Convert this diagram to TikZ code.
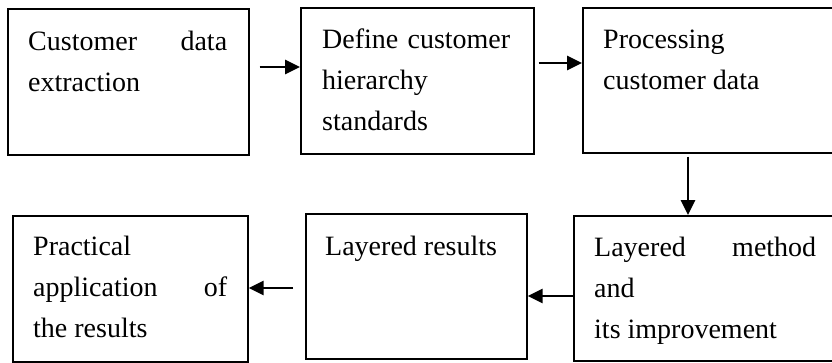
\documentclass[tikz,border=0pt]{standalone}
\usepackage{fontspec}
\setmainfont{Liberation Serif}
\usetikzlibrary{arrows.meta,calc}
\tikzset{
  box/.style={draw=black, line width=1.6pt, rectangle, inner sep=0pt},
  txt/.style={inner sep=0pt, anchor=base west, font=\fontsize{28}{41}\selectfont},
  arr/.style={line width=2.8pt, -{Triangle[length=15pt,width=14pt]}}
}
\begin{document}
\begin{tikzpicture}[x=1pt,y=1pt]
\useasboundingbox (0,0) rectangle (832,-362);
\clip (0,0) rectangle (832,-362);
% boxes
\node[box, minimum width=241pt, minimum height=146pt, anchor=north west] (b1) at (7,-8) {};
\node[box, minimum width=233pt, minimum height=146pt, anchor=north west] (b2) at (300,-7) {};
\node[box, minimum width=300pt, minimum height=145pt, anchor=north west] (b3) at (582,-7) {};
\node[box, minimum width=300pt, minimum height=145pt, anchor=north west] (b4) at (573,-215) {};
\node[box, minimum width=221pt, minimum height=145pt, anchor=north west] (b5) at (305,-213) {};
\node[box, minimum width=235pt, minimum height=146pt, anchor=north west] (b6) at (12,-215) {};
% texts
\node[txt] (t1) at ($(b1.north west)+(21,-42)$) {\parbox[t]{199pt}{Customer\hfill data\\extraction}};
\node[txt] (t2) at ($(b2.north west)+(22,-41)$) {\parbox[t]{188pt}{Define\hfill customer\\hierarchy\\standards}};
\node[txt] (t3) at ($(b3.north west)+(21,-41)$) {\parbox[t]{220pt}{Processing\\customer data}};
\node[txt] (t4) at ($(b4.north west)+(21,-41)$) {\parbox[t]{222pt}{Layered\hfill method\\and\\its improvement}};
\node[txt] (t5) at ($(b5.north west)+(20,-42)$) {\parbox[t]{190pt}{Layered results}};
\node[txt] (t6) at ($(b6.north west)+(21,-40)$) {\parbox[t]{194pt}{Practical\\application\hfill of\\the results}};
% arrows
\draw[arr, shorten <=10pt] (b1.east |- 0,-67) -- (b2.west |- 0,-67);
\draw[arr, shorten <=4pt] (b2.east |- 0,-63) -- (b3.west |- 0,-63);
\draw[arr, shorten <=3pt] (688,0 |- b3.south) -- (688,0 |- b4.north);
\draw[arr] (b4.west |- 0,-296) -- (b5.east |- 0,-296);
\draw[arr, shorten <=12pt] (b5.west |- 0,-288) -- (b6.east |- 0,-288);
\end{tikzpicture}
\end{document}
